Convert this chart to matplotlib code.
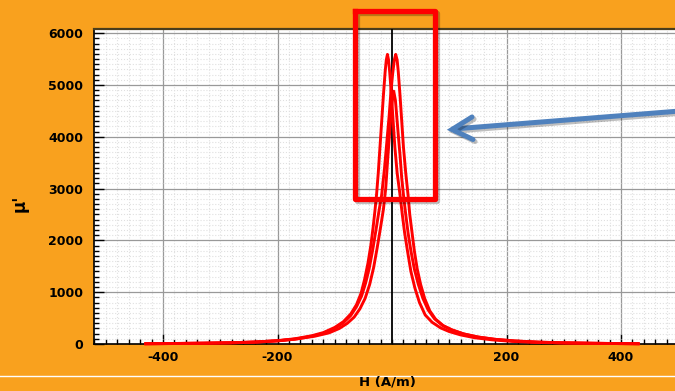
import matplotlib
matplotlib.use("Agg")
import matplotlib.pyplot as plt
import matplotlib.patheffects as pe
from matplotlib.lines import Line2D
from matplotlib.ticker import MultipleLocator

plt.rcParams["axes.unicode_minus"] = False

# --- data (H in A/m, mu' relative permeability) ---
# branch with the peak at negative H (descending field)
h_desc = [-430, -380, -330, -280, -240, -200, -170, -140, -120, -100, -85, -72, -62, -54,
          -48, -42, -37, -33, -30, -27, -24, -21, -18, -15, -12, -10, -8, -6, -4, -1,
          2, 5, 9, 14, 18, 22, 27, 33, 40, 48, 58, 70, 85, 100, 120, 145, 175, 210,
          250, 300, 350, 400, 430]
mu_desc = [5, 10, 16, 25, 38, 65, 100, 160, 220, 320, 430, 580, 760, 980,
           1240, 1560, 1900, 2250, 2550, 2880, 3300, 3800, 4300, 4800, 5250, 5480, 5590, 5480, 5250, 4800,
           4300, 3800, 3300, 2880, 2500, 2150, 1800, 1400, 1080, 800, 560, 420, 310, 240, 175, 120, 80, 50,
           32, 20, 13, 8, 5]

# branch with the peak at positive H (ascending field)
h_asc = [-430, -380, -330, -280, -240, -200, -170, -140, -120, -100, -85, -72, -62, -53,
         -46, -40, -34, -28, -23, -18, -13, -9, -5, -2, 1, 4, 6.5, 9, 11, 14,
         17, 20, 24, 28, 31, 35, 39, 44, 50, 57, 66, 76, 90, 105, 125, 150, 180, 215,
         255, 300, 350, 400, 430]
mu_asc = [5, 10, 15, 23, 35, 60, 92, 150, 205, 300, 410, 550, 720, 930,
          1180, 1450, 1800, 2200, 2550, 2880, 3400, 3900, 4400, 4850, 5200, 5480, 5590, 5480, 5250, 4800,
          4300, 3800, 3300, 2880, 2500, 2150, 1800, 1450, 1150, 880, 640, 480, 350, 270, 195, 135, 90, 58,
          36, 23, 14, 8, 5]

# lower inner loop (peak ~4880)
h_inner = [-430, -380, -330, -280, -240, -200, -165, -135, -110, -92, -78, -66, -56, -47,
           -39, -32, -26, -20, -15, -11, -7, -3, 0, 3, 6, 9, 12, 14, 17, 20,
           24, 28, 33, 39, 46, 54, 63, 74, 88, 104, 125, 150, 180, 215, 255, 300,
           350, 400, 430]
mu_inner = [5, 9, 15, 24, 38, 62, 100, 150, 215, 300, 400, 520, 680, 880,
            1150, 1480, 1850, 2250, 2600, 3000, 3650, 4250, 4650, 4880, 4700, 4300, 3900, 3650, 3200, 2880,
            2500, 2150, 1800, 1450, 1150, 880, 660, 490, 360, 275, 195, 135, 90, 58, 36, 22,
            14, 8, 5]

branches = [(h_desc, mu_desc), (h_asc, mu_asc), (h_inner, mu_inner)]

x_ticks = [-400, -200, 200, 400]
y_ticks = [0, 1000, 2000, 3000, 4000, 5000, 6000]

W, H = 675, 391
ORANGE = "#F9A11E"


def fx(px):
    return px / W


def fy(py):
    return 1 - py / H


fig = plt.figure(figsize=(W / 100, H / 100), dpi=100, facecolor=ORANGE)
ax = fig.add_axes([fx(94.3), (H - 344) / H, 595.4 / W, 315 / H])
ax.set_facecolor("white")

for h, mu in branches:
    ax.plot(h, mu, color="#FF0000", lw=2.1, clip_on=False, zorder=5)

ax.set_xlim(-520, 520)
ax.set_ylim(0, 6080)
ax.set_xticks(x_ticks)
ax.set_yticks(y_ticks)
ax.xaxis.set_minor_locator(MultipleLocator(20))
ax.yaxis.set_minor_locator(MultipleLocator(100))

ax.grid(which="major", color="#999999", lw=0.9)
ax.grid(which="minor", color="#e0e0e0", ls=":", lw=0.8)
ax.set_axisbelow(True)
ax.axvline(0, color="black", lw=1.3, zorder=3)

ax.tick_params(which="both", direction="in", colors="black", width=1.0,
               top=False, right=False)
ax.tick_params(which="major", length=7)
ax.tick_params(which="minor", length=3.5)
ax.tick_params(axis="y", pad=8)
ax.tick_params(axis="x", pad=5)
for lab in ax.get_xticklabels() + ax.get_yticklabels():
    lab.set_fontweight("bold")
    lab.set_fontsize(9)

ax.spines["left"].set_linewidth(1.2)
ax.spines["bottom"].set_linewidth(1.2)
ax.spines["top"].set_color("#4b3d1c")
ax.spines["top"].set_linewidth(1.6)
ax.spines["right"].set_visible(False)

fig.text(fx(387), fy(382), "H (A/m)", ha="center", va="center",
         fontsize=9.5, fontweight="bold")
fig.text(fx(20), fy(203), "\u03bc'", ha="center", va="center", rotation=90,
         fontsize=12, fontweight="bold")

# white rule under the chart
fig.add_artist(Line2D([0, 1], [fy(376), fy(376)], color="white", lw=1.0,
                      transform=fig.transFigure))

shadow = [pe.SimpleLineShadow(offset=(1.5, -1.5), shadow_color="black", alpha=0.25),
          pe.Normal()]

# red highlight box around the peaks
bx = [354.5, 434.5, 434.5, 354.5, 354.5]
by = [10.5, 10.5, 198.5, 198.5, 10.5]
fig.add_artist(Line2D([fx(v) for v in bx], [fy(v) for v in by], color="#FF0000",
                      lw=3.8, solid_joinstyle="round", transform=fig.transFigure,
                      path_effects=shadow, zorder=10))

# blue pointer arrow
blue = "#4F81BD"
fig.add_artist(Line2D([fx(680), fx(453)], [fy(111), fy(129)], color=blue, lw=3.6,
                      solid_capstyle="round", transform=fig.transFigure,
                      path_effects=shadow, zorder=10))
fig.add_artist(Line2D([fx(472), fx(452), fx(473)], [fy(117), fy(129.5), fy(139.5)],
                      color=blue, lw=3.6, solid_capstyle="round", solid_joinstyle="miter",
                      transform=fig.transFigure, path_effects=shadow, zorder=10))

fig.savefig("out.png", dpi=100, facecolor=ORANGE)
